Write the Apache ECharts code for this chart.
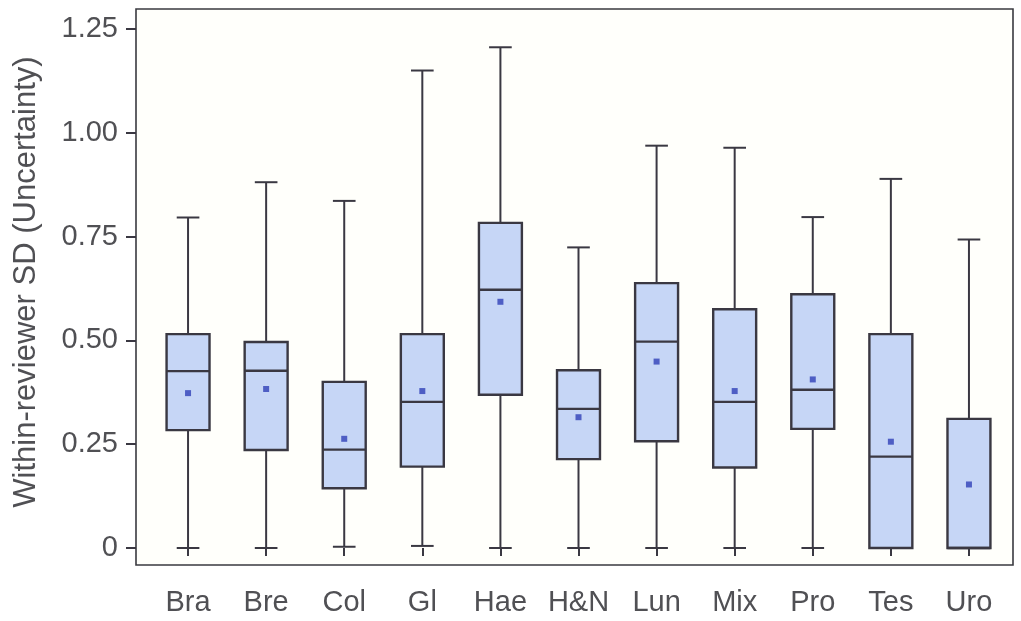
<!DOCTYPE html>
<html>
<head>
<meta charset="utf-8">
<script src="https://cdn.jsdelivr.net/npm/echarts@6/dist/echarts.min.js"></script>
<style>
  html, body { margin: 0; padding: 0; background: #ffffff; }
  #chart { width: 1021px; height: 621px; }
</style>
</head>
<body>
<div id="chart"></div>
<script>
// Tumour groups along the x axis
const categories = ['Bra', 'Bre', 'Col', 'Gl', 'Hae', 'H&N', 'Lun', 'Mix', 'Pro', 'Tes', 'Uro'];

// Box-and-whisker statistics per group
const whiskerLow  = [0.000, 0.000, 0.003, 0.005, 0.000, 0.000, 0.000, 0.000, 0.000, 0.000, 0.000];
const quartile1   = [0.284, 0.236, 0.144, 0.196, 0.369, 0.214, 0.257, 0.194, 0.287, 0.000, 0.000];
const medians     = [0.426, 0.427, 0.237, 0.352, 0.622, 0.335, 0.497, 0.352, 0.381, 0.220, 0.000];
const quartile3   = [0.515, 0.496, 0.400, 0.515, 0.783, 0.428, 0.638, 0.575, 0.611, 0.515, 0.311];
const whiskerHigh = [0.796, 0.881, 0.836, 1.150, 1.206, 0.724, 0.969, 0.964, 0.797, 0.889, 0.743];
const means       = [0.373, 0.383, 0.263, 0.378, 0.593, 0.315, 0.449, 0.378, 0.406, 0.256, 0.153];

// Value axis ticks
const yTicks = [0, 0.25, 0.5, 0.75, 1.0, 1.25];

const FONT = 'Liberation Sans, Arial, sans-serif';
const INK = '#3a3842';
const TEXT = '#505054';

const boxData = categories.map((c, i) => [i, whiskerLow[i], quartile1[i], medians[i], quartile3[i], whiskerHigh[i]]);

function renderBox(params, api) {
  const i = api.value(0);
  const lo = api.coord([i, api.value(1)]);
  const b1 = api.coord([i, api.value(2)]);
  const md = api.coord([i, api.value(3)]);
  const b3 = api.coord([i, api.value(4)]);
  const hi = api.coord([i, api.value(5)]);
  const band = api.size([1, 0])[0];
  const bw = band * 0.55;
  const cw = band * 0.29;
  const cx = lo[0];
  const stroke = { stroke: INK, lineWidth: 2, fill: null };
  return {
    type: 'group',
    children: [
      { type: 'line', shape: { x1: cx, y1: b3[1], x2: cx, y2: hi[1] }, style: stroke },
      { type: 'line', shape: { x1: cx, y1: b1[1], x2: cx, y2: lo[1] }, style: stroke },
      { type: 'line', shape: { x1: cx - cw / 2, y1: hi[1], x2: cx + cw / 2, y2: hi[1] }, style: stroke },
      { type: 'line', shape: { x1: cx - cw / 2, y1: lo[1], x2: cx + cw / 2, y2: lo[1] }, style: stroke },
      { type: 'rect', shape: { x: cx - bw / 2, y: b3[1], width: bw, height: b1[1] - b3[1] },
        style: { fill: '#c6d6f6', stroke: INK, lineWidth: 2.4 } },
      { type: 'line', shape: { x1: cx - bw / 2, y1: md[1], x2: cx + bw / 2, y2: md[1] },
        style: { stroke: INK, lineWidth: 2.4 } }
    ]
  };
}

const chart = echarts.init(document.getElementById('chart'), null, { renderer: 'canvas' });

chart.setOption({
  animation: false,
  backgroundColor: '#ffffff',
  grid: [
    // outer frame of the plotting region
    { left: 136, right: 8, top: 9, bottom: 56, show: true, borderColor: '#3a3a40', borderWidth: 1.6,
      backgroundColor: '#fffffb' },
    // data region, inset inside the frame
    { left: 149, right: 13, top: 29, bottom: 73 }
  ],
  xAxis: [
    { gridIndex: 0, type: 'value', show: false, min: 0, max: 1 },
    {
      gridIndex: 1, type: 'category', data: categories, boundaryGap: true, offset: 17,
      axisLine: { show: false },
      axisTick: { show: true, alignWithLabel: true, length: 8, lineStyle: { color: INK, width: 2 } },
      axisLabel: { color: TEXT, fontFamily: FONT, fontSize: 29, margin: 23, interval: 0 }
    }
  ],
  yAxis: [
    { gridIndex: 0, type: 'value', show: false, min: 0, max: 1 },
    {
      gridIndex: 1, type: 'value', min: yTicks[0], max: yTicks[yTicks.length - 1], interval: 0.25, offset: 13,
      axisLine: { show: false },
      splitLine: { show: false },
      axisTick: { show: true, length: 10, lineStyle: { color: INK, width: 2 } },
      axisLabel: {
        color: TEXT, fontFamily: FONT, fontSize: 29, margin: 18,
        formatter: v => (v === 0 ? '0' : v.toFixed(2))
      }
    }
  ],
  graphic: [
    {
      type: 'text', rotation: Math.PI / 2,
      x: 26, y: 282,
      style: {
        text: 'Within-reviewer SD (Uncertainty)', fill: TEXT, font: '31px ' + FONT,
        align: 'center', verticalAlign: 'middle'
      }
    }
  ],
  series: [
    {
      type: 'custom', xAxisIndex: 1, yAxisIndex: 1,
      renderItem: renderBox,
      encode: { x: 0, y: [1, 2, 3, 4, 5] },
      data: boxData
    },
    {
      type: 'scatter', xAxisIndex: 1, yAxisIndex: 1,
      symbol: 'rect', symbolSize: 6,
      itemStyle: { color: '#3040b8' },
      data: means
    }
  ]
});
</script>
</body>
</html>
